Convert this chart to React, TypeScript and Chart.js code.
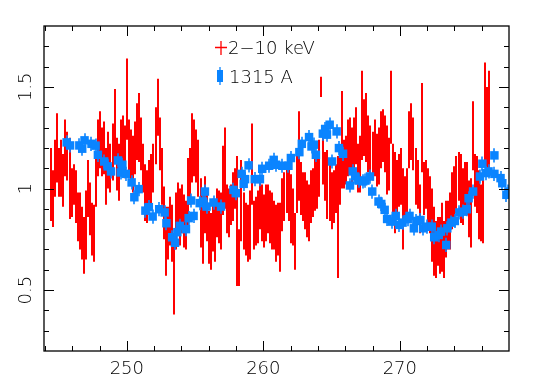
import React, { useEffect, useRef } from "react";
import { Chart, registerables } from "chart.js";

Chart.register(...registerables);

const X_MIN = 243.93;
const X_MAX = 278.0;
const Y_MIN = 0.2;
const Y_MAX = 1.8;

const xTickValues = [250, 260, 270];
const xTickLabels = ["250", "260", "270"];
const yTickValues = [0.5, 1, 1.5];
const yTickLabels = ["0.5", "1", "1.5"];
const xMinorTicks = [244, 246, 248, 252, 254, 256, 258, 262, 264, 266, 268, 272, 274, 276];
const yMinorTicks = [0.3, 0.4, 0.6, 0.7, 0.8, 0.9, 1.1, 1.2, 1.3, 1.4, 1.6, 1.7];

const seriesNames = ["2\u221210 keV", "1315 A"];

// 2-10 keV light curve: regular time bins starting at RED_START, width RED_STEP
const RED_START = 244.45;
const RED_STEP = 0.15;
const redValues = [
  1.02, 0.95, 1.1, 1.2, 1.08, 1.1, 1.04,
  1.2, 1.16, 1.05, 0.98, 1.02, 0.96, 0.86,
  0.84, 0.78, 0.72, 0.82, 1.0, 0.9, 0.8,
  0.78, 1.04, 1.2, 1.24, 1.18, 1.2, 1.06,
  1.14, 1.1, 1.18, 1.32, 1.12, 1.08, 1.2,
  1.22, 1.18, 1.44, 1.2, 1.16, 1.12, 1.2,
  1.28, 1.3, 1.22, 1.1, 0.98, 0.96, 1.02,
  1.04, 1.1, 1.26, 1.4, 1.22, 1.06, 0.88,
  0.74, 0.78, 0.84, 0.78, 0.58, 0.84, 0.9,
  0.86, 0.9, 0.84, 0.82, 0.98, 1.06, 1.2,
  1.2, 1.16, 1.1, 0.88, 0.8, 0.92, 0.86,
  0.76, 0.74, 0.82, 0.78, 0.88, 0.86, 0.84,
  1.04, 1.1, 0.9, 0.88, 0.92, 0.96, 1.0,
  0.84, 0.66, 0.94, 0.84, 0.8, 0.78, 0.82,
  1.12, 0.82, 0.84, 0.86, 0.92, 0.88, 0.84,
  0.88, 0.9, 0.86, 0.84, 0.82, 0.78, 0.8,
  0.76, 0.92, 0.96, 1.0, 0.98, 0.9, 0.86,
  0.74, 1.02, 1.16, 1.0, 0.96, 0.94, 0.9,
  0.88, 0.96, 0.98, 1.02, 1.04, 1.1, 1.5,
  1.16, 1.06, 1.02, 0.98, 0.94, 0.96, 1.0,
  0.86, 1.06, 1.24, 1.12, 1.14, 1.2, 1.22,
  1.16, 1.22, 1.26, 1.1, 1.12, 1.36, 1.3,
  1.3, 1.22, 1.18, 1.16, 1.2, 1.14, 1.16,
  1.24, 1.26, 1.22, 1.14, 1.12, 1.4, 1.02,
  0.98, 1.0, 1.04, 1.06, 0.9, 0.94, 0.98,
  1.24, 1.28, 1.22, 1.06, 1.02, 0.9, 1.3,
  1.0, 1.02, 0.96, 0.92, 0.82, 0.74, 0.7,
  0.74, 0.72, 0.76, 0.7, 0.8, 0.82, 0.84,
  0.94, 0.98, 1.02, 1.06, 1.0, 0.96, 1.0,
  1.0, 0.9, 0.88, 1.26, 1.04, 1.02, 0.92,
  0.88, 0.9, 1.38, 1.3, 1.34,
];
const redErrors = [
  0.18, 0.14, 0.14, 0.17, 0.12, 0.14, 0.13,
  0.14, 0.12, 0.2, 0.12, 0.1, 0.13, 0.12,
  0.14, 0.13, 0.14, 0.17, 0.14, 0.13, 0.13,
  0.14, 0.13, 0.14, 0.14, 0.12, 0.13, 0.14,
  0.14, 0.12, 0.14, 0.17, 0.13, 0.14, 0.14,
  0.14, 0.13, 0.2, 0.14, 0.13, 0.14, 0.13,
  0.14, 0.17, 0.13, 0.12, 0.14, 0.13, 0.12,
  0.13, 0.12, 0.14, 0.14, 0.13, 0.14, 0.13,
  0.17, 0.13, 0.12, 0.14, 0.2, 0.14, 0.13,
  0.14, 0.12, 0.13, 0.12, 0.17, 0.14, 0.17,
  0.14, 0.13, 0.14, 0.17, 0.17, 0.14, 0.12,
  0.13, 0.14, 0.13, 0.14, 0.12, 0.13, 0.14,
  0.17, 0.2, 0.12, 0.12, 0.1, 0.12, 0.1,
  0.32, 0.14, 0.2, 0.14, 0.13, 0.14, 0.17,
  0.2, 0.12, 0.12, 0.13, 0.12, 0.14, 0.13,
  0.14, 0.12, 0.13, 0.14, 0.12, 0.14, 0.13,
  0.17, 0.13, 0.12, 0.12, 0.14, 0.17, 0.14,
  0.14, 0.14, 0.22, 0.13, 0.12, 0.14, 0.14,
  0.14, 0.13, 0.12, 0.13, 0.14, 0.14, 0.05,
  0.14, 0.12, 0.17, 0.14, 0.14, 0.13, 0.12,
  0.3, 0.14, 0.24, 0.12, 0.12, 0.14, 0.13,
  0.14, 0.13, 0.14, 0.12, 0.14, 0.22, 0.14,
  0.17, 0.14, 0.13, 0.12, 0.14, 0.13, 0.14,
  0.14, 0.13, 0.14, 0.17, 0.13, 0.18, 0.2,
  0.2, 0.14, 0.13, 0.14, 0.2, 0.12, 0.12,
  0.14, 0.14, 0.13, 0.14, 0.12, 0.12, 0.22,
  0.13, 0.12, 0.14, 0.14, 0.18, 0.17, 0.14,
  0.12, 0.14, 0.17, 0.14, 0.14, 0.12, 0.14,
  0.14, 0.13, 0.14, 0.12, 0.17, 0.14, 0.13,
  0.13, 0.14, 0.17, 0.17, 0.13, 0.14, 0.17,
  0.14, 0.17, 0.24, 0.2, 0.24,
];

// 1315 A light curve
const blueTimes = [
  245.59, 245.84, 246.52, 246.73, 246.9, 247.41, 247.71, 247.88, 248.34, 248.59,
  248.84, 249.35, 249.55, 249.67, 249.92, 250.35, 250.55, 250.86, 251.36, 251.61,
  251.89, 252.37, 252.77, 252.9, 253.32, 253.53, 253.7, 253.88, 254.33, 254.53,
  254.71, 254.89, 255.34, 255.59, 255.72, 255.84, 256.35, 256.9, 257.81, 257.98,
  258.41, 258.56, 258.66, 258.92, 259.37, 259.75, 259.92, 260.43, 260.76, 260.93,
  261.39, 261.84, 262.02, 262.64, 262.82, 263.35, 263.53, 263.7, 263.85, 264.36,
  264.53, 264.66, 264.86, 265.04, 265.37, 265.54, 265.84, 266.35, 266.55, 266.73,
  266.98, 267.31, 267.48, 267.81, 267.98, 268.44, 268.64, 268.89, 269.07, 269.4,
  269.7, 269.95, 270.2, 270.58, 270.71, 271.03, 271.21, 271.51, 271.71, 271.96,
  272.34, 272.52, 272.85, 273.02, 273.4, 273.48, 273.78, 274.03, 274.36, 274.61,
  274.91, 275.04, 275.37, 275.87, 276.05, 276.3, 276.5, 276.93, 276.93, 277.38,
  277.51, 277.81, 277.96,
];
const blueValues = [
  1.227, 1.212, 1.212, 1.196, 1.237, 1.22, 1.211, 1.166, 1.133, 1.109,
  1.084, 1.138, 1.079, 1.117, 1.072, 1.03, 0.957, 0.997, 0.891, 0.908,
  0.862, 0.898, 0.882, 0.829, 0.76, 0.733, 0.785, 0.816, 0.8, 0.854,
  0.941, 0.865, 0.928, 0.936, 0.985, 0.911, 0.931, 0.911, 0.993, 0.977,
  1.072, 1.023, 1.046, 1.114, 1.046, 1.046, 1.097, 1.112, 1.141, 1.117,
  1.112, 1.112, 1.15, 1.179, 1.22, 1.253, 1.207, 1.216, 1.166, 1.27,
  1.293, 1.265, 1.314, 1.133, 1.281, 1.199, 1.171, 1.015, 1.084, 1.059,
  1.039, 1.035, 1.039, 1.059, 0.985, 0.936, 0.924, 0.895, 0.85, 0.837,
  0.865, 0.821, 0.832, 0.849, 0.865, 0.804, 0.84, 0.845, 0.804, 0.812,
  0.812, 0.76, 0.771, 0.788, 0.722, 0.804, 0.832, 0.84, 0.882, 0.886,
  0.898, 0.952, 0.985, 1.059, 1.122, 1.076, 1.084, 1.163, 1.072, 1.051,
  1.026, 0.969, 0.985,
];
const BLUE_ERR = 0.035;

const RED = "#ff0000";
const BLUE = "#0a84ff";
const FONT = "'DejaVu Sans', sans-serif";
const FONT_WEIGHT = 200;

const redPoints = redValues.map((v, i) => ({ x: RED_START + i * RED_STEP, y: v, e: redErrors[i] }));
const bluePoints = blueTimes.map((t, i) => ({ x: t, y: blueValues[i] }));

const overlayPlugin = {
  id: "overlay",
  beforeDatasetsDraw(chart: any) {
    const { ctx, chartArea } = chart;
    const xs = chart.scales.x;
    const ys = chart.scales.y;
    ctx.save();
    ctx.beginPath();
    ctx.rect(chartArea.left, chartArea.top, chartArea.right - chartArea.left, chartArea.bottom - chartArea.top);
    ctx.clip();
    ctx.strokeStyle = RED;
    ctx.lineWidth = 2;
    ctx.beginPath();
    for (const p of redPoints) {
      const px = Math.round(xs.getPixelForValue(p.x));
      ctx.moveTo(px, ys.getPixelForValue(p.y - p.e));
      ctx.lineTo(px, ys.getPixelForValue(p.y + p.e));
    }
    ctx.stroke();
    ctx.strokeStyle = BLUE;
    ctx.lineWidth = 1.6;
    ctx.beginPath();
    for (const p of bluePoints) {
      const px = Math.round(xs.getPixelForValue(p.x));
      ctx.moveTo(px, ys.getPixelForValue(p.y - BLUE_ERR));
      ctx.lineTo(px, ys.getPixelForValue(p.y + BLUE_ERR));
    }
    ctx.stroke();
    ctx.restore();
  },
  afterDraw(chart: any) {
    const { ctx, chartArea } = chart;
    const xs = chart.scales.x;
    const ys = chart.scales.y;
    const { left, right, top, bottom } = chartArea;
    ctx.save();
    ctx.strokeStyle = "#000";
    ctx.lineWidth = 1.3;
    ctx.strokeRect(left, top, right - left, bottom - top);
    ctx.lineWidth = 1;
    ctx.beginPath();
    const xt = (v: number, len: number) => {
      const px = Math.round(xs.getPixelForValue(v)) + 0.5;
      ctx.moveTo(px, bottom);
      ctx.lineTo(px, bottom - len);
      ctx.moveTo(px, top);
      ctx.lineTo(px, top + len);
    };
    const yt = (v: number, len: number) => {
      const py = Math.round(ys.getPixelForValue(v)) + 0.5;
      ctx.moveTo(left, py);
      ctx.lineTo(left + len, py);
      ctx.moveTo(right, py);
      ctx.lineTo(right - len, py);
    };
    xTickValues.forEach((v) => xt(v, 10));
    xMinorTicks.forEach((v) => xt(v, 5));
    yTickValues.forEach((v) => yt(v, 10));
    yMinorTicks.forEach((v) => yt(v, 5));
    ctx.stroke();

    // legend
    ctx.strokeStyle = RED;
    ctx.lineWidth = 1.3;
    ctx.beginPath();
    ctx.moveTo(221, 41);
    ctx.lineTo(221, 55);
    ctx.moveTo(215, 47.5);
    ctx.lineTo(227, 47.5);
    ctx.stroke();
    ctx.fillStyle = BLUE;
    ctx.fillRect(217, 70, 6, 12);
    ctx.strokeStyle = BLUE;
    ctx.beginPath();
    ctx.moveTo(220, 67);
    ctx.lineTo(220, 85);
    ctx.stroke();
    ctx.fillStyle = "#000";
    ctx.font = `${FONT_WEIGHT} 18px ${FONT}`;
    ctx.textAlign = "left";
    ctx.textBaseline = "alphabetic";
    ctx.fillText(seriesNames[0], 228, 54);
    ctx.fillText(seriesNames[1], 229, 83);
    ctx.restore();
  },
};

export default function App() {
  const ref = useRef<HTMLCanvasElement | null>(null);
  useEffect(() => {
    if (!ref.current) return;
    const chart = new Chart(ref.current, {
      type: "scatter",
      data: {
        datasets: [
          {
            label: seriesNames[1],
            data: bluePoints,
            pointStyle: "rect",
            pointRadius: 6,
            pointHoverRadius: 6,
            backgroundColor: BLUE,
            borderWidth: 0,
            showLine: false,
          },
          {
            label: seriesNames[0],
            data: redPoints.map((p) => ({ x: p.x, y: p.y })),
            pointRadius: 0,
            pointHoverRadius: 0,
            showLine: false,
            backgroundColor: RED,
            borderColor: RED,
          },
        ],
      },
      options: {
        animation: false,
        responsive: false,
        devicePixelRatio: 1,
        events: [],
        layout: { padding: { top: 26, right: 27, left: 0, bottom: 0 } },
        plugins: { legend: { display: false }, tooltip: { enabled: false } },
        scales: {
          x: {
            type: "linear",
            min: X_MIN,
            max: X_MAX,
            grid: { display: false, drawTicks: false },
            border: { display: false },
            ticks: {
              color: "#000",
              font: { family: FONT, size: 18, weight: FONT_WEIGHT },
              padding: 8,
              minRotation: 0,
              maxRotation: 0,
              callback: (v: any) => {
                const i = xTickValues.indexOf(Number(v));
                return i >= 0 ? xTickLabels[i] : "";
              },
            },
            afterBuildTicks: (s: any) => {
              s.ticks = xTickValues.map((v) => ({ value: v }));
            },
            afterFit: (s: any) => {
              s.height = 31;
            },
          },
          y: {
            type: "linear",
            min: Y_MIN,
            max: Y_MAX,
            grid: { display: false, drawTicks: false },
            border: { display: false },
            ticks: {
              color: "#000",
              font: { family: FONT, size: 18, weight: FONT_WEIGHT },
              padding: 3,
              minRotation: 90,
              maxRotation: 90,
              crossAlign: "center",
              callback: (v: any) => {
                const i = yTickValues.indexOf(Number(v));
                return i >= 0 ? yTickLabels[i] : "";
              },
            },
            afterBuildTicks: (s: any) => {
              s.ticks = yTickValues.map((v) => ({ value: v }));
            },
            afterFit: (s: any) => {
              s.width = 44;
            },
          },
        },
      },
      plugins: [overlayPlugin],
    } as any);
    return () => chart.destroy();
  }, []);
  return (
    <div style={{ position: "fixed", left: 0, top: 0, width: 536, height: 382, background: "#fff" }}>
      <canvas ref={ref} width={536} height={382} style={{ display: "block" }} />
    </div>
  );
}
